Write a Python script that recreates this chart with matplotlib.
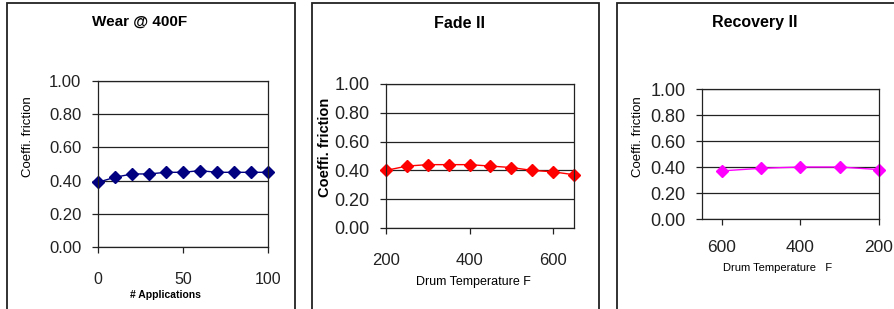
import numpy as np
import matplotlib.pyplot as plt
from matplotlib.patches import Rectangle

plt.rcParams['font.family'] = ['Liberation Sans', 'DejaVu Sans']

# data
wear_x = [0, 10, 20, 30, 40, 50, 60, 70, 80, 90, 100]
wear_y = [0.39, 0.42, 0.44, 0.44, 0.45, 0.45, 0.46, 0.45, 0.45, 0.45, 0.45]

fade_x = [200, 250, 300, 350, 400, 450, 500, 550, 600, 650]
fade_y = [0.40, 0.43, 0.44, 0.44, 0.44, 0.43, 0.42, 0.40, 0.39, 0.37]

rec_x = [600, 500, 400, 300, 200]
rec_y = [0.37, 0.39, 0.40, 0.40, 0.38]

y_ticks = [0.0, 0.2, 0.4, 0.6, 0.8, 1.0]

W, H = 895, 309
fig = plt.figure(figsize=(W / 100, H / 100), dpi=100)


def px_axes(l, t, r, b):
    return fig.add_axes([l / W, (H - b) / H, (r - l) / W, (b - t) / H])


def panel_box(l, r):
    rect = Rectangle((l / W, -0.1), (r - l) / W, (H - 3) / H + 0.1,
                     transform=fig.transFigure, fill=False, ec='#222222',
                     lw=1.3, clip_on=False)
    fig.patches.append(rect)


def style(ax, tick_fs, xtick_fs, xpad):
    ax.set_ylim(0, 1)
    ax.set_yticks(y_ticks)
    ax.set_yticklabels(['%.2f' % v for v in y_ticks], fontsize=tick_fs)
    ax.tick_params(direction='out', length=4, width=0.9, color='#222222')
    ax.tick_params(axis='y', pad=8, labelcolor='#222222')
    ax.tick_params(axis='x', labelsize=xtick_fs, pad=xpad, labelcolor='#222222')
    ax.grid(axis='y', color='#222222', lw=0.9)
    ax.set_axisbelow(True)
    for s in ax.spines.values():
        s.set_color('#222222')
        s.set_linewidth(0.9)


panel_box(7, 295)
panel_box(312, 599)
panel_box(617, 905)

# Wear @ 400F
ax1 = px_axes(98, 81, 268, 247)
ax1.plot(wear_x, wear_y, color='#000080', marker='D', ms=6.5, lw=1, clip_on=False)
ax1.set_xlim(0, 100)
ax1.set_xticks([0, 50, 100])
style(ax1, 12, 11.5, 14)
fig.text(140 / W, 1 - 22 / H, 'Wear @ 400F', ha='center', va='center',
         fontsize=11, fontweight='bold')
fig.text(28 / W, 1 - 137 / H, 'Coeffi. friction', rotation=90, ha='center',
         va='center', fontsize=9.5)
fig.text(165 / W, 1 - 295 / H, '# Applications', ha='center', va='center',
         fontsize=7.5, fontweight='bold')

# Fade II
ax2 = px_axes(386, 84, 574, 228)
ax2.plot(fade_x, fade_y, color='#ff0000', marker='D', ms=6.5, lw=1, clip_on=False)
ax2.set_xlim(200, 650)
ax2.set_xticks([200, 400, 600])
style(ax2, 13, 12, 14)
fig.text(460 / W, 1 - 23 / H, 'Fade II', ha='center', va='center',
         fontsize=11.5, fontweight='bold')
fig.text(325 / W, 1 - 147 / H, 'Coeffi. friction', rotation=90, ha='center',
         va='center', fontsize=10.5, fontweight='bold')
fig.text(473 / W, 1 - 282 / H, 'Drum Temperature F', ha='center', va='center',
         fontsize=9)

# Recovery II
ax3 = px_axes(702, 89, 879, 219)
ax3.plot(rec_x, rec_y, color='#ff00ff', marker='D', ms=6.5, lw=1, clip_on=False)
ax3.set_xlim(650, 200)
ax3.set_xticks([600, 400, 200])
style(ax3, 13, 12.5, 11)
fig.text(755 / W, 1 - 23 / H, 'Recovery II', ha='center', va='center',
         fontsize=11.5, fontweight='bold')
fig.text(638 / W, 1 - 137 / H, 'Coeffi. friction', rotation=90, ha='center',
         va='center', fontsize=9.5)
fig.text(778 / W, 1 - 268 / H, 'Drum Temperature   F', ha='center', va='center',
         fontsize=8)

fig.savefig('out.png', dpi=100)
